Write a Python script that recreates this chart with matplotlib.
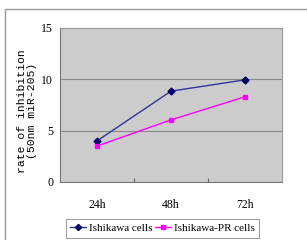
import matplotlib
matplotlib.use("Agg")
from matplotlib import pyplot as plt
from matplotlib.patches import Rectangle
import numpy as np

timeLabels = ["24h", "48h", "72h"]
ishikawa = [4.0, 8.85, 9.95]
ishikawaPR = [3.5, 6.05, 8.3]

plt.rcParams['font.family'] = ['Liberation Serif', 'DejaVu Serif']

fig = plt.figure(figsize=(3.07, 2.40), dpi=100)

# outer chart frame (cut off at right and bottom)
fig.patches.append(Rectangle((5/307, -0.1), 1.2, 1.1 - 9/240, transform=fig.transFigure,
                             fill=False, edgecolor="#999999", linewidth=1.0))

ax = fig.add_axes([60/307, 58/240, 222/307, 154/240])
ax.set_facecolor("#cccccc")
xRay = np.arange(len(timeLabels))

ax.plot(xRay, ishikawa, "-", color="#333399", linewidth=1.0,
        marker="D", markersize=3.5, markerfacecolor="#000066", markeredgecolor="#000066",
        label="Ishikawa cells")
ax.plot(xRay, ishikawaPR, "-", color="#ff00ff", linewidth=1.0,
        marker="s", markersize=3.5, markerfacecolor="#ff00ff", markeredgecolor="#ff00ff",
        label="Ishikawa-PR cells")

ax.set_xlim(-0.5, 2.5)
ax.set_ylim(0, 15)
ax.set_yticks([0, 5, 10, 15])
ax.tick_params(axis="y", length=0, pad=5, labelsize=8.5)
ax.set_xticks([0.5, 1.5])
ax.set_xticklabels([])
ax.tick_params(axis="x", which="major", direction="in", length=3, color="#666666")
ax.set_xticks(xRay, minor=True)
ax.set_xticklabels(timeLabels, minor=True)
ax.tick_params(axis="x", which="minor", length=0, pad=12, labelsize=8.5)
ax.grid(True, axis="y", color="#888888", linewidth=0.8)
ax.set_axisbelow(True)

for side in ["top", "right"]:
    ax.spines[side].set_color("#999999")
for side in ["left", "bottom"]:
    ax.spines[side].set_color("#777777")

ax.set_ylabel("rate of inhibition\n(50nm miR-205)", family="Liberation Mono",
              fontsize=8.2, linespacing=1.0, va="center")
ax.yaxis.set_label_coords(-0.148, 0.46)

leg = fig.legend(loc="upper left", bbox_to_anchor=(66/307, 1 - 219/240), ncol=2,
                 fontsize=8, frameon=True, fancybox=False, borderaxespad=0,
                 handlelength=1.4, handletextpad=0.3, columnspacing=0.2,
                 borderpad=0.4, markerscale=0.9)
leg.get_frame().set_edgecolor("#888888")
leg.get_frame().set_linewidth(0.8)

fig.savefig("out.png", dpi=100)
